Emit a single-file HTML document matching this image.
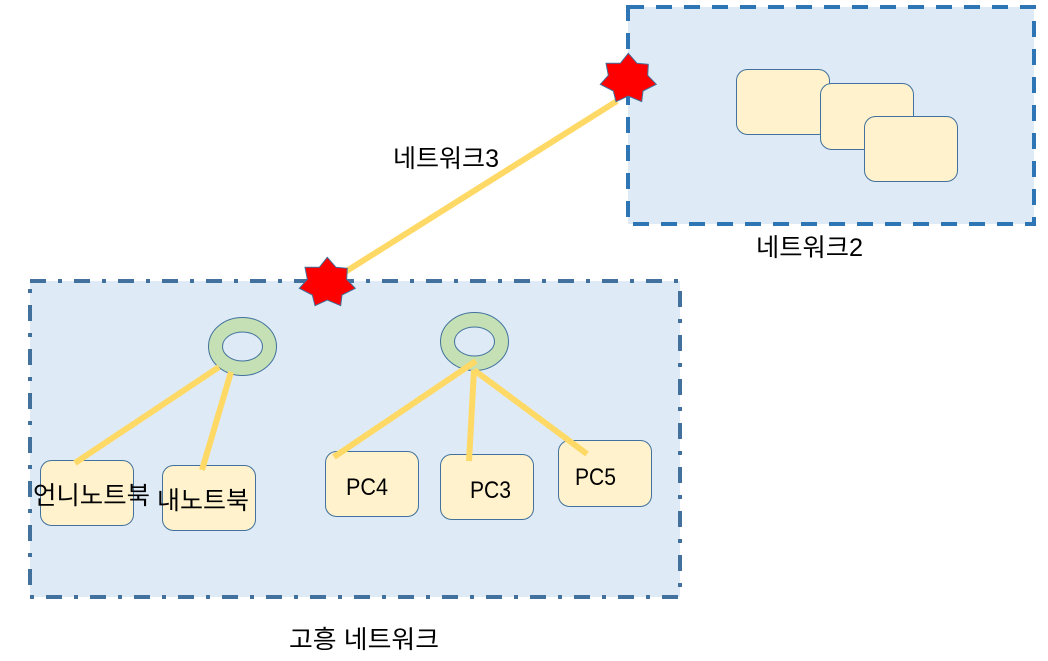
<!DOCTYPE html>
<html><head><meta charset="utf-8">
<style>html,body{margin:0;padding:0;background:#fff;width:1048px;height:661px;overflow:hidden}
svg{display:block}
text{font-family:"Liberation Sans","Noto Sans CJK KR",sans-serif;font-size:24px;fill:#000}
text.k{font-size:25px}
</style></head><body>
<svg width="1048" height="661" viewBox="0 0 1048 661" xmlns="http://www.w3.org/2000/svg">
<defs>
<polygon id="star" points="327.3,257.3 336,267.3 347.3,268.3 346.7,279.3 355.3,288.3 342,295 340.7,305.7 327.3,300 315,305.7 312.3,295 299.3,288.3 307.3,279.3 305,267.3 319.3,267.3" fill="#FF0000" stroke="#41719C" stroke-width="1"/>
</defs>
<rect x="628" y="7" width="406" height="217" fill="#DEEBF7" stroke="#2E75B6" stroke-width="4" stroke-dasharray="16 12"/>
<rect x="30" y="281" width="650" height="316" fill="#DEEBF7" stroke="#41719C" stroke-width="4" stroke-dasharray="16 12 4 12"/>
<g fill="#FFF2CC" stroke="#41719C" stroke-width="1">
<rect x="736.5" y="69.5" width="93" height="65" rx="11"/>
<rect x="820.5" y="83.5" width="93" height="66" rx="11"/>
<rect x="864.5" y="116.5" width="93" height="65" rx="11"/>
<rect x="40.5" y="460.5" width="93" height="65" rx="11"/>
<rect x="162.5" y="465.5" width="93" height="65" rx="11"/>
<rect x="325.5" y="451.5" width="93" height="65" rx="11"/>
<rect x="440.5" y="454.5" width="93" height="65" rx="11"/>
<rect x="558.5" y="440.5" width="93" height="66" rx="11"/>
</g>
<g fill="#C5E0B4" stroke="#41719C" stroke-width="1">
<path fill-rule="evenodd" d="M208.5,346.5a34,29 0 1,0 68,0a34,29 0 1,0 -68,0zM222.5,346.5a20,14.5 0 1,0 40,0a20,14.5 0 1,0 -40,0z"/>
<path fill-rule="evenodd" d="M440.5,341.5a34,29 0 1,0 68,0a34,29 0 1,0 -68,0zM454.5,341.5a20,14.5 0 1,0 40,0a20,14.5 0 1,0 -40,0z"/>
</g>
<g stroke="#FFD966" stroke-width="6" fill="none">
<line x1="617" y1="101" x2="345" y2="272"/>
<line x1="219" y1="367" x2="75" y2="463"/>
<line x1="231" y1="372" x2="202" y2="470"/>
<line x1="476" y1="361" x2="334" y2="457"/>
<line x1="474" y1="370" x2="469" y2="461"/>
<line x1="474" y1="370" x2="587" y2="454"/>
</g>
<use href="#star"/>
<use href="#star" x="301" y="-204"/>
<text class="k" x="393" y="167" textLength="106" lengthAdjust="spacingAndGlyphs">네트워크3</text>
<text class="k" x="756" y="256" textLength="107" lengthAdjust="spacingAndGlyphs">네트워크2</text>
<text class="k" x="289" y="648" textLength="150" lengthAdjust="spacingAndGlyphs">고흥 네트워크</text>
<text class="k" x="33" y="504" textLength="117" lengthAdjust="spacingAndGlyphs">언니노트북</text>
<text class="k" x="157" y="509" textLength="92" lengthAdjust="spacingAndGlyphs">내노트북</text>
<text x="346" y="495" textLength="42" lengthAdjust="spacingAndGlyphs">PC4</text>
<text x="470" y="498" textLength="41" lengthAdjust="spacingAndGlyphs">PC3</text>
<text x="575" y="485" textLength="41" lengthAdjust="spacingAndGlyphs">PC5</text>
</svg>
</body></html>
